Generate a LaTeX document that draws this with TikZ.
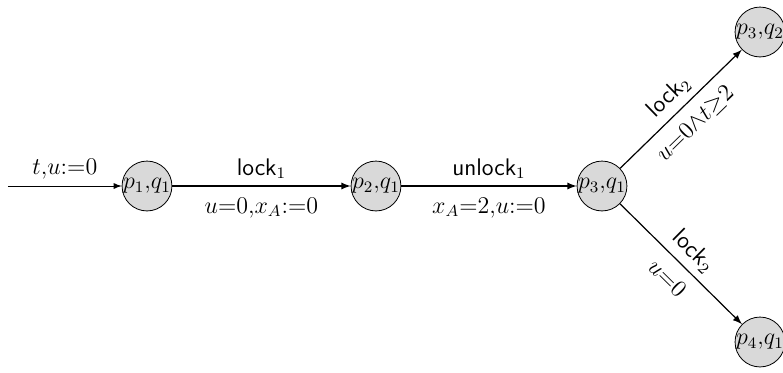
\documentclass[tikz,border=0pt]{standalone}
\usetikzlibrary{positioning}
\tikzset{
  state/.style={draw, circle, fill=gray!30, inner sep=0pt, minimum size=23pt, font=\large},
  trans/.style={->, >=latex, semithick},
  act/.style={font=\large\sffamily},
  grd/.style={font=\large, inner sep=5.5pt}
}
\begin{document}
\begin{tikzpicture}
\useasboundingbox (-73.5pt,-93pt) rectangle (318pt,93pt);
\node (p1q1) [state] {$p_1{,}q_1$};
\node (p2q1) [state, right of=p1q1, node distance=114.5pt] {$p_2{,}q_1$};
\node (p3q1) [state, right of=p2q1, node distance=113pt] {$p_3{,}q_1$};
\node (p3q2) [state, right of=p3q1, node distance=79pt, yshift=77pt] {$p_3{,}q_2$};
\node (p4q1) [state, right of=p3q1, node distance=79pt, yshift=-78pt] {$p_4{,}q_1$};
\coordinate [left of=p1q1, node distance=69.5pt] (init);

\draw [->, >=latex] (init) -- node[above, font=\large]{$t{,}u{:=}0$} (p1q1);
\draw [trans] (p1q1) -- node[above, act]{lock$_1$} node[below, grd]{$u{=}0{,}x_A{:=}0$} (p2q1);
\draw [trans] (p2q1) -- node[above, act]{unlock$_1$} node[below, grd]{$x_A{=}2{,}u{:=}0$} (p3q1);
\draw [trans] (p3q1) -- node[above, sloped, act]{lock$_2$} node[below, sloped, grd]{$u{=}0{\wedge}t{\geq}2$} (p3q2);
\draw [trans] (p3q1) -- node[above, sloped, act]{lock$_2$} node[below, sloped, grd]{$u{=}0$} (p4q1);
\end{tikzpicture}
\end{document}
